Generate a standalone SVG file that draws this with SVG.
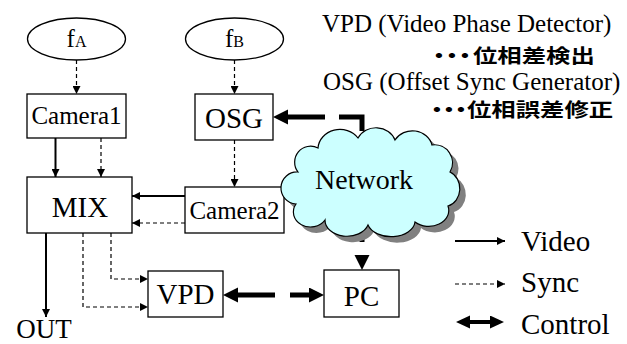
<svg xmlns="http://www.w3.org/2000/svg" width="627" height="344" viewBox="0 0 627 344">
<style>
.box{fill:#fff;stroke:#000;stroke-width:1.3}
.t{font-family:"Liberation Serif","Times New Roman",serif;fill:#000}
.jp{font-family:"Noto Sans CJK JP","Noto Sans",sans-serif;font-size:19.5px;font-weight:700;fill:#000}
.video{fill:none;stroke:#000;stroke-width:2}
.sync{fill:none;stroke:#000;stroke-width:1.2;stroke-dasharray:4 3}
.ctrl{fill:none;stroke:#000;stroke-width:5}
</style>
<defs>
<marker id="ah" markerUnits="userSpaceOnUse" markerWidth="8" markerHeight="8" refX="8" refY="4" orient="auto">
<path d="M0,0 L8,4 L0,8 Z" fill="#000"/>
</marker>
<marker id="ahBig" markerUnits="userSpaceOnUse" markerWidth="16" markerHeight="16" refX="0" refY="7.5" orient="auto-start-reverse">
<path d="M0,0 L15,7.5 L0,15 Z" fill="#000"/>
</marker>
<marker id="ahLeg" markerUnits="userSpaceOnUse" markerWidth="15" markerHeight="14" refX="0" refY="6.5" orient="auto-start-reverse">
<path d="M0,0 L14,6.5 L0,13 Z" fill="#000"/>
</marker>
</defs>

<g id="connectors">
<line class="sync" x1="76.5" y1="60" x2="76.5" y2="94" marker-end="url(#ah)"/>
<line class="sync" x1="234.5" y1="60" x2="234.5" y2="94" marker-end="url(#ah)"/>
<line class="sync" x1="234.5" y1="140" x2="234.5" y2="187" marker-end="url(#ah)"/>
<line class="video" x1="55.5" y1="138" x2="55.5" y2="177" marker-end="url(#ah)"/>
<line class="sync" x1="101" y1="138" x2="101" y2="177" marker-end="url(#ah)"/>
<line class="video" x1="185" y1="196" x2="132" y2="196" marker-end="url(#ah)"/>
<line class="sync" x1="185" y1="223" x2="132" y2="223" marker-end="url(#ah)"/>
<line class="video" x1="46" y1="233" x2="46" y2="317" marker-end="url(#ah)"/>
<path class="sync" d="M83,233 V307 H148" marker-end="url(#ah)"/>
<path class="sync" d="M111,233 V279 H148" marker-end="url(#ah)"/>
<path class="ctrl" d="M238,295 H309" stroke-dasharray="37 15" marker-start="url(#ahBig)" marker-end="url(#ahBig)"/>
<path class="ctrl" d="M288,117 H362 V165" stroke-dasharray="37 14" marker-start="url(#ahBig)"/>
<path class="ctrl" d="M362,255 V185" stroke-dasharray="37 13" stroke-dashoffset="37" marker-start="url(#ahBig)"/>
</g>

<g id="fA">
<ellipse cx="76.5" cy="39" rx="49" ry="21" class="box"/>
<text class="t" x="76.5" y="47" text-anchor="middle"><tspan font-size="25">f</tspan><tspan font-size="16">A</tspan></text>
</g>
<g id="fB">
<ellipse cx="234.5" cy="39" rx="49" ry="21" class="box"/>
<text class="t" x="234.5" y="47" text-anchor="middle"><tspan font-size="25">f</tspan><tspan font-size="16">B</tspan></text>
</g>
<g id="camera1">
<rect x="27" y="94" width="99" height="44" class="box"/>
<text class="t" x="76.5" y="124" font-size="25" text-anchor="middle">Camera1</text>
</g>
<g id="osg">
<rect x="195" y="94" width="78" height="46" class="box"/>
<text class="t" x="234" y="128" font-size="29" text-anchor="middle">OSG</text>
</g>
<g id="mix">
<rect x="27" y="177" width="105" height="56" class="box"/>
<text class="t" x="80" y="217" font-size="29" text-anchor="middle">MIX</text>
</g>
<g id="camera2">
<rect x="185" y="187" width="99" height="46" class="box"/>
<text class="t" x="234.5" y="219" font-size="25" text-anchor="middle">Camera2</text>
</g>
<g id="vpd">
<rect x="148" y="271" width="75" height="46" class="box"/>
<text class="t" x="185.5" y="304" font-size="29" text-anchor="middle">VPD</text>
</g>
<g id="pc">
<rect x="324" y="270" width="75" height="47" class="box"/>
<text class="t" x="361.5" y="306" font-size="29" text-anchor="middle">PC</text>
</g>
<g id="out">
<text class="t" x="44" y="338" font-size="27" text-anchor="middle">OUT</text>
</g>
<g id="network">
<path transform="translate(6,6)" fill="#808080" d="M298,172 A16,16 0 0 1 318,148 A22,20 0 0 1 358,138 A20,18 0 0 1 395,140 A20,18 0 0 1 432,145 A18,18 0 0 1 450,172 A16,18 0 0 1 448,206 A20,16 0 0 1 415,222 A24,16 0 0 1 368,225 A22,16 0 0 1 325,220 A16,14 0 0 1 296,204 A14,14 0 0 1 298,172 Z"/>
<path fill="#ccffff" stroke="#000" stroke-width="1.2" d="M298,172 A16,16 0 0 1 318,148 A22,20 0 0 1 358,138 A20,18 0 0 1 395,140 A20,18 0 0 1 432,145 A18,18 0 0 1 450,172 A16,18 0 0 1 448,206 A20,16 0 0 1 415,222 A24,16 0 0 1 368,225 A22,16 0 0 1 325,220 A16,14 0 0 1 296,204 A14,14 0 0 1 298,172 Z"/>
<text class="t" x="364" y="189" font-size="28" text-anchor="middle">Network</text>
</g>

<g id="legend">
<line class="video" x1="455" y1="241" x2="505" y2="241" marker-end="url(#ah)"/>
<text class="t" x="521" y="251" font-size="29">Video</text>
<line class="sync" x1="455" y1="284" x2="505" y2="284" marker-end="url(#ah)"/>
<text class="t" x="521" y="292" font-size="29">Sync</text>
<path d="M470,322 H490" fill="none" stroke="#000" stroke-width="4" marker-start="url(#ahLeg)" marker-end="url(#ahLeg)"/>
<text class="t" x="521" y="334" font-size="29">Control</text>
</g>

<g id="notes">
<text class="t" x="322" y="32" font-size="25">VPD (Video Phase Detector)</text>
<text class="jp" transform="scale(1.25,1)" x="341.4 351.8 362.2 378.4" y="63">・・・位相差検出</text>
<text class="t" x="323" y="90" font-size="25">OSG (Offset Sync Generator)</text>
<text class="jp" transform="scale(1.25,1)" x="339.8 349.4 359 373.6" y="117">・・・位相誤差修正</text>
</g>
</svg>
